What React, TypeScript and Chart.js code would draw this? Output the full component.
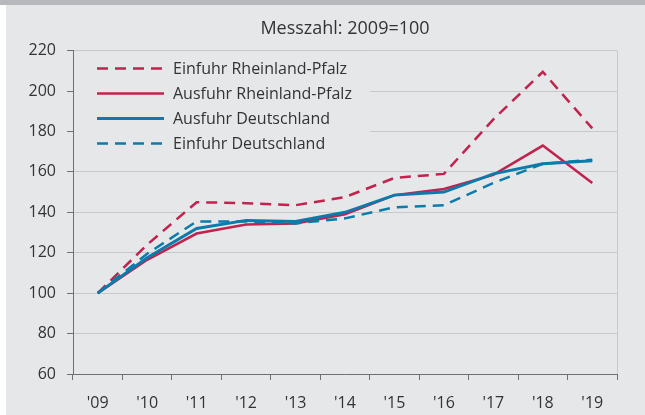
import { useEffect, useRef } from "react";
import { Chart, registerables } from "chart.js";

Chart.register(...registerables);

// ---- data ----
const years = ["'09", "'10", "'11", "'12", "'13", "'14", "'15", "'16", "'17", "'18", "'19"];
const einfuhrRLP = [100, 124, 145, 144.5, 143.5, 147.5, 157, 159, 186, 209.5, 181.5];
const ausfuhrRLP = [100, 116.5, 129.5, 134, 134.5, 139, 148.5, 151.5, 158.5, 173, 154.5];
const ausfuhrDE = [100, 117.5, 132, 136, 135.5, 140, 148.5, 150, 159, 164, 165.5];
const einfuhrDE = [100, 119.5, 135.5, 135.5, 134.5, 137, 142.5, 143.5, 154.5, 164, 166];
const yTicks = [60, 80, 100, 120, 140, 160, 180, 200, 220];
const titleText = "Messzahl: 2009=100";

// ---- style ----
const RED = "#c0234e";
const BLUE = "#0b7bab";
const BG = "#e6e7e8";
const GRID = "#c7c8ca";
const AXIS = "#707070";
const TEXT = "#333333";
const FONT = '"Open Sans", "Noto Sans", sans-serif';
const DASH = [11, 7];

const insideLegend = {
  id: "insideLegend",
  beforeDatasetsDraw(chart: any) {
    const { ctx, chartArea } = chart;
    ctx.save();
    ctx.fillStyle = BG;
    ctx.fillRect(chartArea.left + 1, chartArea.top + 1, 296, 106);
    const x0 = chartArea.left + 24;
    const y0 = chartArea.top + 18;
    chart.data.datasets.forEach((ds: any, i: number) => {
      const y = y0 + i * 25;
      ctx.strokeStyle = ds.borderColor;
      ctx.lineWidth = ds.borderWidth;
      ctx.setLineDash(ds.borderDash || []);
      ctx.beginPath();
      ctx.moveTo(x0, y);
      ctx.lineTo(x0 + 67, y);
      ctx.stroke();
      ctx.setLineDash([]);
      ctx.fillStyle = TEXT;
      ctx.font = `16px ${FONT}`;
      ctx.textBaseline = "middle";
      ctx.textAlign = "left";
      ctx.fillText(ds.label, x0 + 76, y + 1);
    });
    ctx.restore();
  },
};

export default function App() {
  const ref = useRef<HTMLCanvasElement>(null);

  useEffect(() => {
    const chart = new Chart(ref.current as HTMLCanvasElement, {
      type: "line",
      data: {
        labels: years,
        datasets: [
          { label: "Einfuhr Rheinland-Pfalz", data: einfuhrRLP, borderColor: RED, borderWidth: 2.5, borderDash: DASH, order: 4 },
          { label: "Ausfuhr Rheinland-Pfalz", data: ausfuhrRLP, borderColor: RED, borderWidth: 2.5, order: 3 },
          { label: "Ausfuhr Deutschland", data: ausfuhrDE, borderColor: BLUE, borderWidth: 3, order: 1 },
          { label: "Einfuhr Deutschland", data: einfuhrDE, borderColor: BLUE, borderWidth: 2.5, borderDash: DASH, order: 2 },
        ] as any,
      },
      options: {
        responsive: false,
        animation: false,
        layout: { padding: { left: 27, right: 28, top: 0, bottom: 2 } },
        elements: {
          point: { radius: 0, hoverRadius: 0 },
          line: { tension: 0, fill: false },
        },
        plugins: {
          legend: { display: false },
          tooltip: { enabled: false },
          title: {
            display: true,
            text: titleText,
            fullSize: false,
            color: TEXT,
            font: { family: FONT, size: 18, weight: "normal" },
            padding: { top: 18, bottom: 11 },
          },
        },
        scales: {
          x: {
            type: "category",
            offset: true,
            afterFit: (scale: any) => {
              scale.height = 39;
            },
            grid: {
              offset: true,
              drawOnChartArea: true,
              color: (c: any) => (c.type === "tick" ? "rgba(0,0,0,0)" : GRID),
              tickColor: AXIS,
              tickLength: 6,
              lineWidth: 1,
            },
            border: { color: AXIS, width: 1 },
            ticks: {
              color: TEXT,
              font: { family: FONT, size: 16 },
              padding: 14,
              maxRotation: 0,
              autoSkip: false,
            },
          },
          y: {
            min: 60,
            max: 220,
            afterBuildTicks: (scale: any) => {
              scale.ticks = yTicks.map((v) => ({ value: v }));
            },
            afterFit: (scale: any) => {
              scale.width = 46;
            },
            grid: { color: GRID, tickColor: AXIS, tickLength: 6, lineWidth: 1 },
            border: { color: AXIS, width: 1 },
            ticks: {
              color: TEXT,
              font: { family: FONT, size: 16 },
              padding: 11,
            },
          },
        },
      },
      plugins: [insideLegend],
    });
    return () => chart.destroy();
  }, []);

  return (
    <div style={{ position: "absolute", left: 0, top: 0, width: 645, height: 415, background: "#ffffff", overflow: "hidden" }}>
      <div style={{ position: "absolute", left: 6, top: 0, right: 0, bottom: 0, background: BG }} />
      <div style={{ position: "absolute", left: 0, top: 0, width: 645, height: 5, background: "#b6b8bc" }} />
      <canvas ref={ref} width={645} height={415} style={{ position: "absolute", left: 0, top: 0, width: 645, height: 415 }} />
    </div>
  );
}
